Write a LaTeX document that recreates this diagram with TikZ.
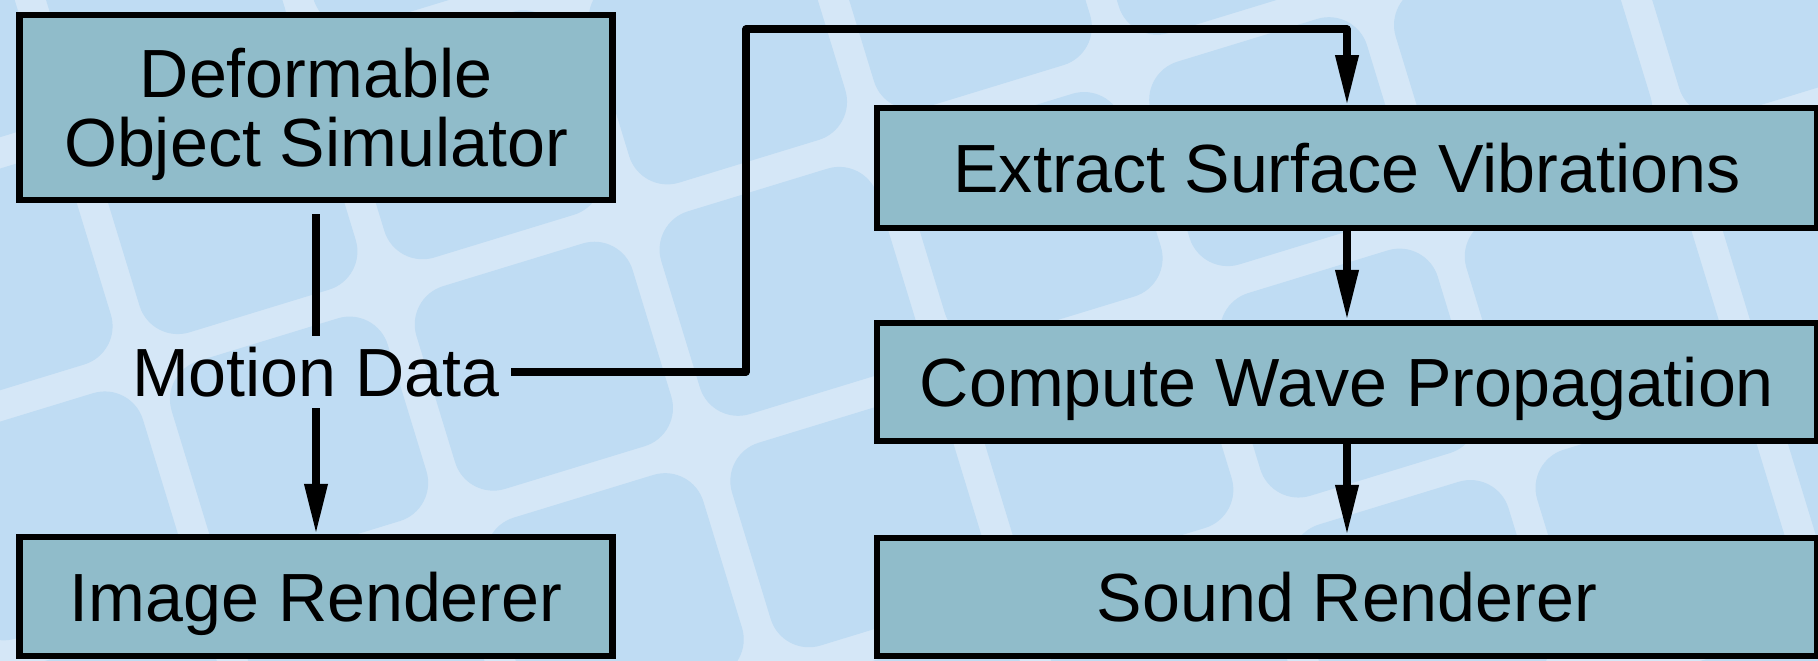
\documentclass[tikz,border=0pt]{standalone}
\usepackage{fontspec}
\setmainfont{Liberation Sans}
\usetikzlibrary{arrows.meta}

\definecolor{tilebg}{HTML}{BFDCF3}
\definecolor{gridline}{HTML}{D5E7F7}
\definecolor{boxfill}{HTML}{90BCCA}

\tikzset{
  stage/.style = {draw, line width = 3.6pt, fill = boxfill, align = center,
                  inner sep = 0pt, text depth = 0pt,
                  font = \fontsize{38.8}{39}\selectfont},
  label/.style = {inner sep = .22cm, text depth = 0pt,
                  font = \fontsize{38.8}{39}\selectfont},
  link/.style = {line width = 4pt, line join = round},
  flow/.style = {link, -{Triangle[length = 1cm, width = .44cm]}},
}

\begin{document}
\begin{tikzpicture}
  % backdrop: tilted grid of rounded tiles
  \begin{scope}
    \clip (0,0) rectangle (36.36,13.22);
    \fill [gridline] (0,0) rectangle (36.36,13.22);
    \begin{scope}[rotate = 17]
      \foreach \i in {-1,...,7}
        \foreach \j in {-4,...,2}
          \fill [tilebg, rounded corners = .8cm]
            ({4.446 + 5.12*\i + .3}, {4.878 + 4.84*\j + .3}) rectangle
            ({4.446 + 5.12*\i + 4.82}, {4.878 + 4.84*\j + 4.54});
    \end{scope}
  \end{scope}
  \useasboundingbox (0,0) rectangle (36.36,13.22);

  % left column
  \node [stage, minimum width = 11.86cm, minimum height = 3.7cm]
    (sim) at (6.32,11.07) {Deformable\\Object Simulator};
  \node [label] (motion) at (6.32,5.78) {Motion Data};
  \node [stage, minimum width = 11.86cm, minimum height = 2.38cm]
    (img) at (6.32,1.29) {Image Renderer};

  % right column
  \node [stage, minimum width = 18.8cm, minimum height = 2.39cm]
    (ext) at (26.94,9.86) {Extract Surface Vibrations};
  \node [stage, minimum width = 18.8cm, minimum height = 2.36cm]
    (wave) at (26.94,5.58) {Compute Wave Propagation};
  \node [stage, minimum width = 18.8cm, minimum height = 2.36cm]
    (snd) at (26.94,1.28) {Sound Renderer};

  \coordinate (bend) at (14.92,12.64);

  \draw [link, shorten <= .22cm] (sim) -- (motion);
  \draw [flow] (motion) -- (img);
  \draw [flow] (motion) -| (bend) -| (ext);
  \draw [flow] (ext) -- (wave);
  \draw [flow] (wave) -- (snd);
\end{tikzpicture}
\end{document}
